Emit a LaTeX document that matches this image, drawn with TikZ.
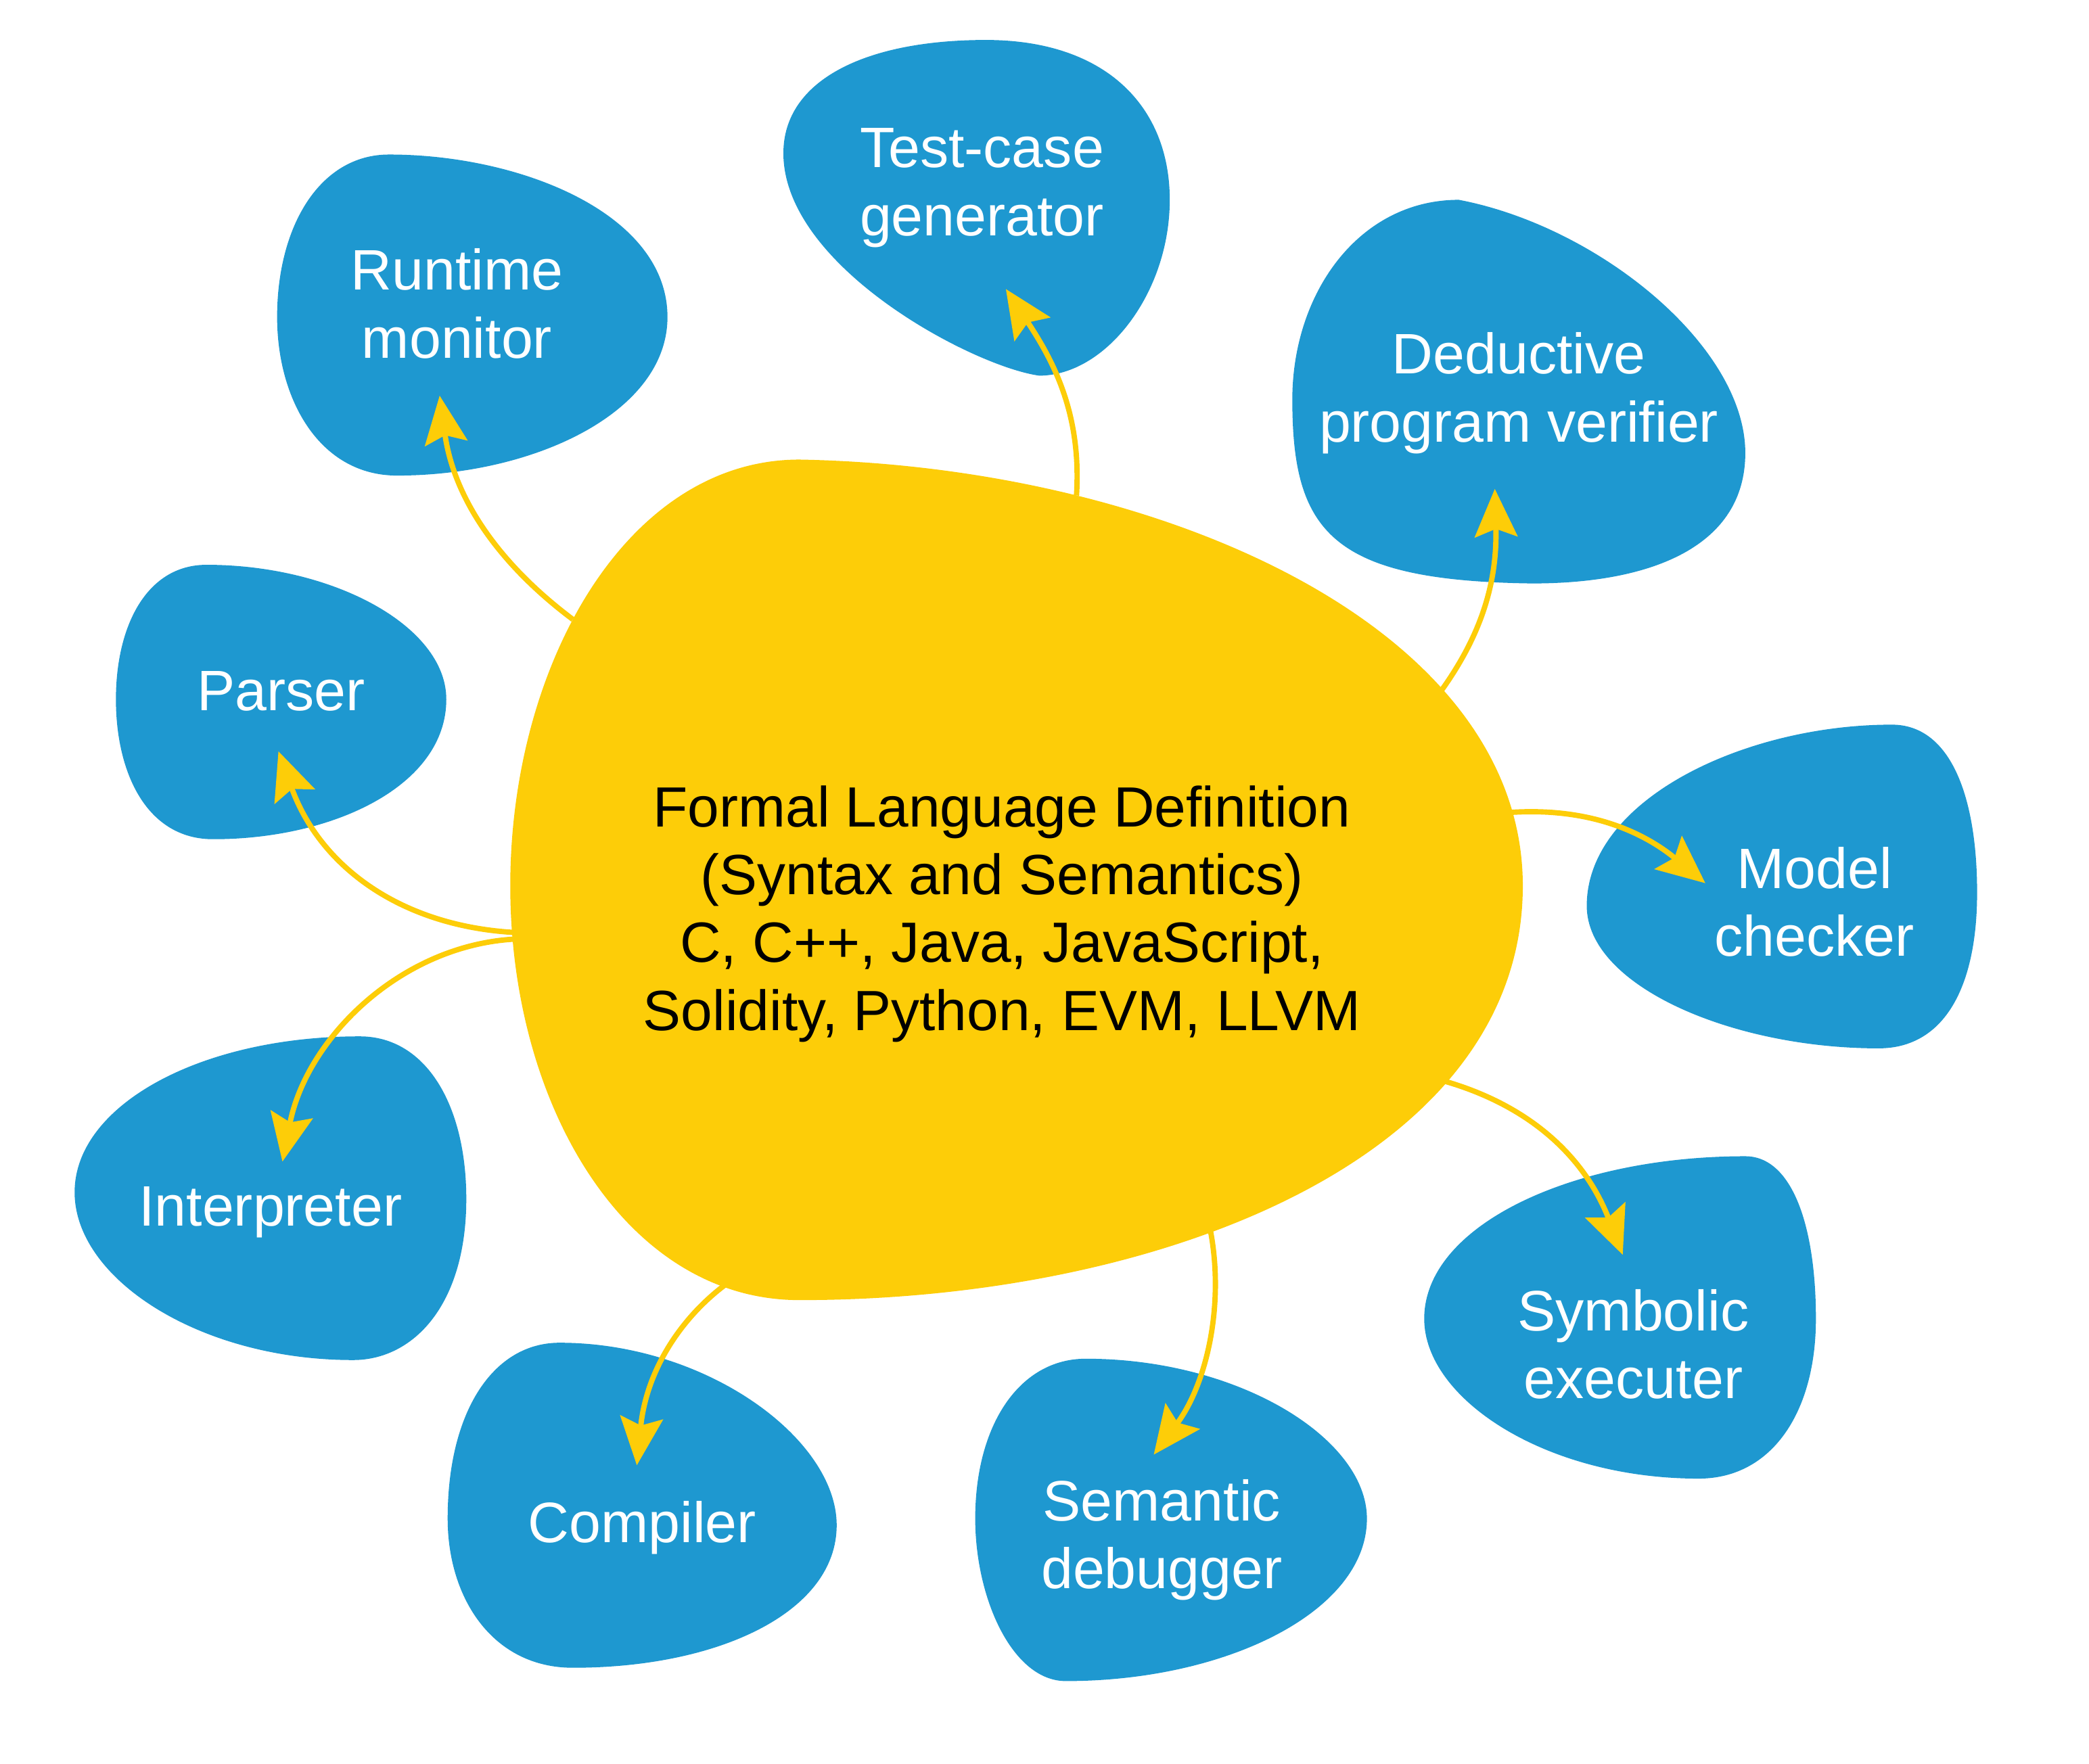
\documentclass[tikz,border=0pt]{standalone}
\usepackage{fontspec}
\setmainfont{Liberation Sans}
\usetikzlibrary{arrows.meta}
\definecolor{blobblue}{RGB}{30,152,208}
\definecolor{blobyellow}{RGB}{253,205,8}
\begin{document}
\begin{tikzpicture}[x=0.5pt,y=-0.5pt,
  blueblob/.style={fill=blobblue},
  coreblob/.style={fill=blobyellow},
  lbl/.style={text=white, align=center, inner sep=0pt, font=\fontsize{21.4}{25.5}\selectfont},
  corelbl/.style={text=black, align=center, inner sep=0pt, font=\fontsize{21.3}{25.5}\selectfont},
  link/.style={draw=blobyellow, line width=2pt, -{Stealth[length=18pt,width=16pt,inset=3pt]}}]
\useasboundingbox (0,0) rectangle (1568,1324);

% central blob
\fill[coreblob] (600,345) .. controls (870,350) and (1143,470) .. (1143,665)
  .. controls (1143,870) and (870,976) .. (600,976)
  .. controls (470,976) and (383,830) .. (383,665)
  .. controls (383,500) and (470,345) .. (600,345) -- cycle;

% blue blobs
% Runtime monitor
\fill[blueblob] (292,116) .. controls (390,116) and (501,160) .. (501,238)
  .. controls (501,310) and (400,357) .. (298,357)
  .. controls (240,357) and (208,300) .. (208,238)
  .. controls (208,170) and (240,116) .. (292,116) -- cycle;
% Test-case generator
\fill[blueblob] (780,282) .. controls (730,275) and (588,200) .. (588,115)
  .. controls (588,60) and (650,30) .. (740,30)
  .. controls (830,30) and (878,80) .. (878,150)
  .. controls (878,220) and (830,282) .. (780,282) -- cycle;
% Deductive program verifier
\fill[blueblob] (1095,150) .. controls (1200,170) and (1310,260) .. (1310,340)
  .. controls (1310,410) and (1240,438) .. (1150,438)
  .. controls (1000,436) and (970,400) .. (970,300)
  .. controls (970,220) and (1020,150) .. (1095,150) -- cycle;
% Parser
\fill[blueblob] (155,424) .. controls (250,424) and (335,470) .. (335,525)
  .. controls (335,590) and (250,630) .. (160,630)
  .. controls (110,630) and (87,580) .. (87,525)
  .. controls (87,470) and (110,424) .. (155,424) -- cycle;
% Model checker
\fill[blueblob] (1420,544) .. controls (1465,544) and (1484,600) .. (1484,670)
  .. controls (1484,740) and (1460,787) .. (1410,787)
  .. controls (1300,787) and (1191,740) .. (1191,680)
  .. controls (1191,600) and (1310,544) .. (1420,544) -- cycle;
% Interpreter
\fill[blueblob] (270,778) .. controls (320,778) and (350,830) .. (350,900)
  .. controls (350,980) and (310,1021) .. (265,1021)
  .. controls (150,1021) and (56,960) .. (56,895)
  .. controls (56,830) and (150,778) .. (270,778) -- cycle;
% Compiler
\fill[blueblob] (420,1008) .. controls (530,1008) and (628,1080) .. (628,1145)
  .. controls (628,1210) and (540,1252) .. (430,1252)
  .. controls (370,1252) and (336,1200) .. (336,1140)
  .. controls (336,1060) and (370,1008) .. (420,1008) -- cycle;
% Semantic debugger
\fill[blueblob] (815,1020) .. controls (930,1020) and (1026,1080) .. (1026,1140)
  .. controls (1026,1210) and (920,1262) .. (800,1262)
  .. controls (760,1262) and (732,1200) .. (732,1140)
  .. controls (732,1070) and (765,1020) .. (815,1020) -- cycle;
% Symbolic executer
\fill[blueblob] (1310,868) .. controls (1345,868) and (1363,920) .. (1363,990)
  .. controls (1363,1060) and (1330,1110) .. (1275,1110)
  .. controls (1160,1110) and (1069,1050) .. (1069,990)
  .. controls (1069,920) and (1180,868) .. (1310,868) -- cycle;

% labels
\node[corelbl] (core) at (752,686) {Formal Language Definition\\(Syntax and Semantics)\\C, C++, Java, JavaScript,\\Solidity, Python, EVM, LLVM};
\node[lbl] (runtime) at (343,228) {Runtime\\monitor};
\node[lbl] (testcase) at (737,141) {Test-case\\generator};
\node[lbl] (deductive) at (1140,295) {Deductive\\program verifier};
\node[lbl] (parser) at (211,519) {Parser};
\node[lbl] (model) at (1362,677) {Model\\checker};
\node[lbl] (interp) at (203,910) {Interpreter};
\node[lbl] (compiler) at (482,1147) {Compiler};
\node[lbl] (semantic) at (872,1156) {Semantic\\debugger};
\node[lbl] (symbolic) at (1226,1009) {Symbolic\\executer};

% connector end points
\coordinate (sRun) at (430,465);   \coordinate (tRun) at (330,297);
\coordinate (sTest) at (808,372);  \coordinate (tTest) at (755,217);
\coordinate (sDed) at (1080,521);  \coordinate (tDed) at (1122,367);
\coordinate (sPar) at (386,700);   \coordinate (tPar) at (209,564);
\coordinate (sInt) at (386,705);   \coordinate (tInt) at (212,872);
\coordinate (sMod) at (1132,610);  \coordinate (tMod) at (1280,663);
\coordinate (sSym) at (1082,811);  \coordinate (tSym) at (1218,942);
\coordinate (sSem) at (908,921);   \coordinate (tSem) at (866,1092);
\coordinate (sCom) at (545,964);   \coordinate (tCom) at (478,1100);

% connectors
\draw[link] (sRun) .. controls (370,420) and (340,370) .. (tRun);
\draw[link] (sTest) .. controls (812,310) and (790,270) .. (tTest);
\draw[link] (sDed) .. controls (1110,480) and (1124,440) .. (tDed);
\draw[link] (sPar) .. controls (300,695) and (240,650) .. (tPar);
\draw[link] (sInt) .. controls (300,710) and (230,780) .. (tInt);
\draw[link] (sMod) .. controls (1200,605) and (1240,630) .. (tMod);
\draw[link] (sSym) .. controls (1150,830) and (1190,870) .. (tSym);
\draw[link] (sSem) .. controls (920,980) and (905,1040) .. (tSem);
\draw[link] (sCom) .. controls (510,990) and (485,1030) .. (tCom);
\end{tikzpicture}
\end{document}
